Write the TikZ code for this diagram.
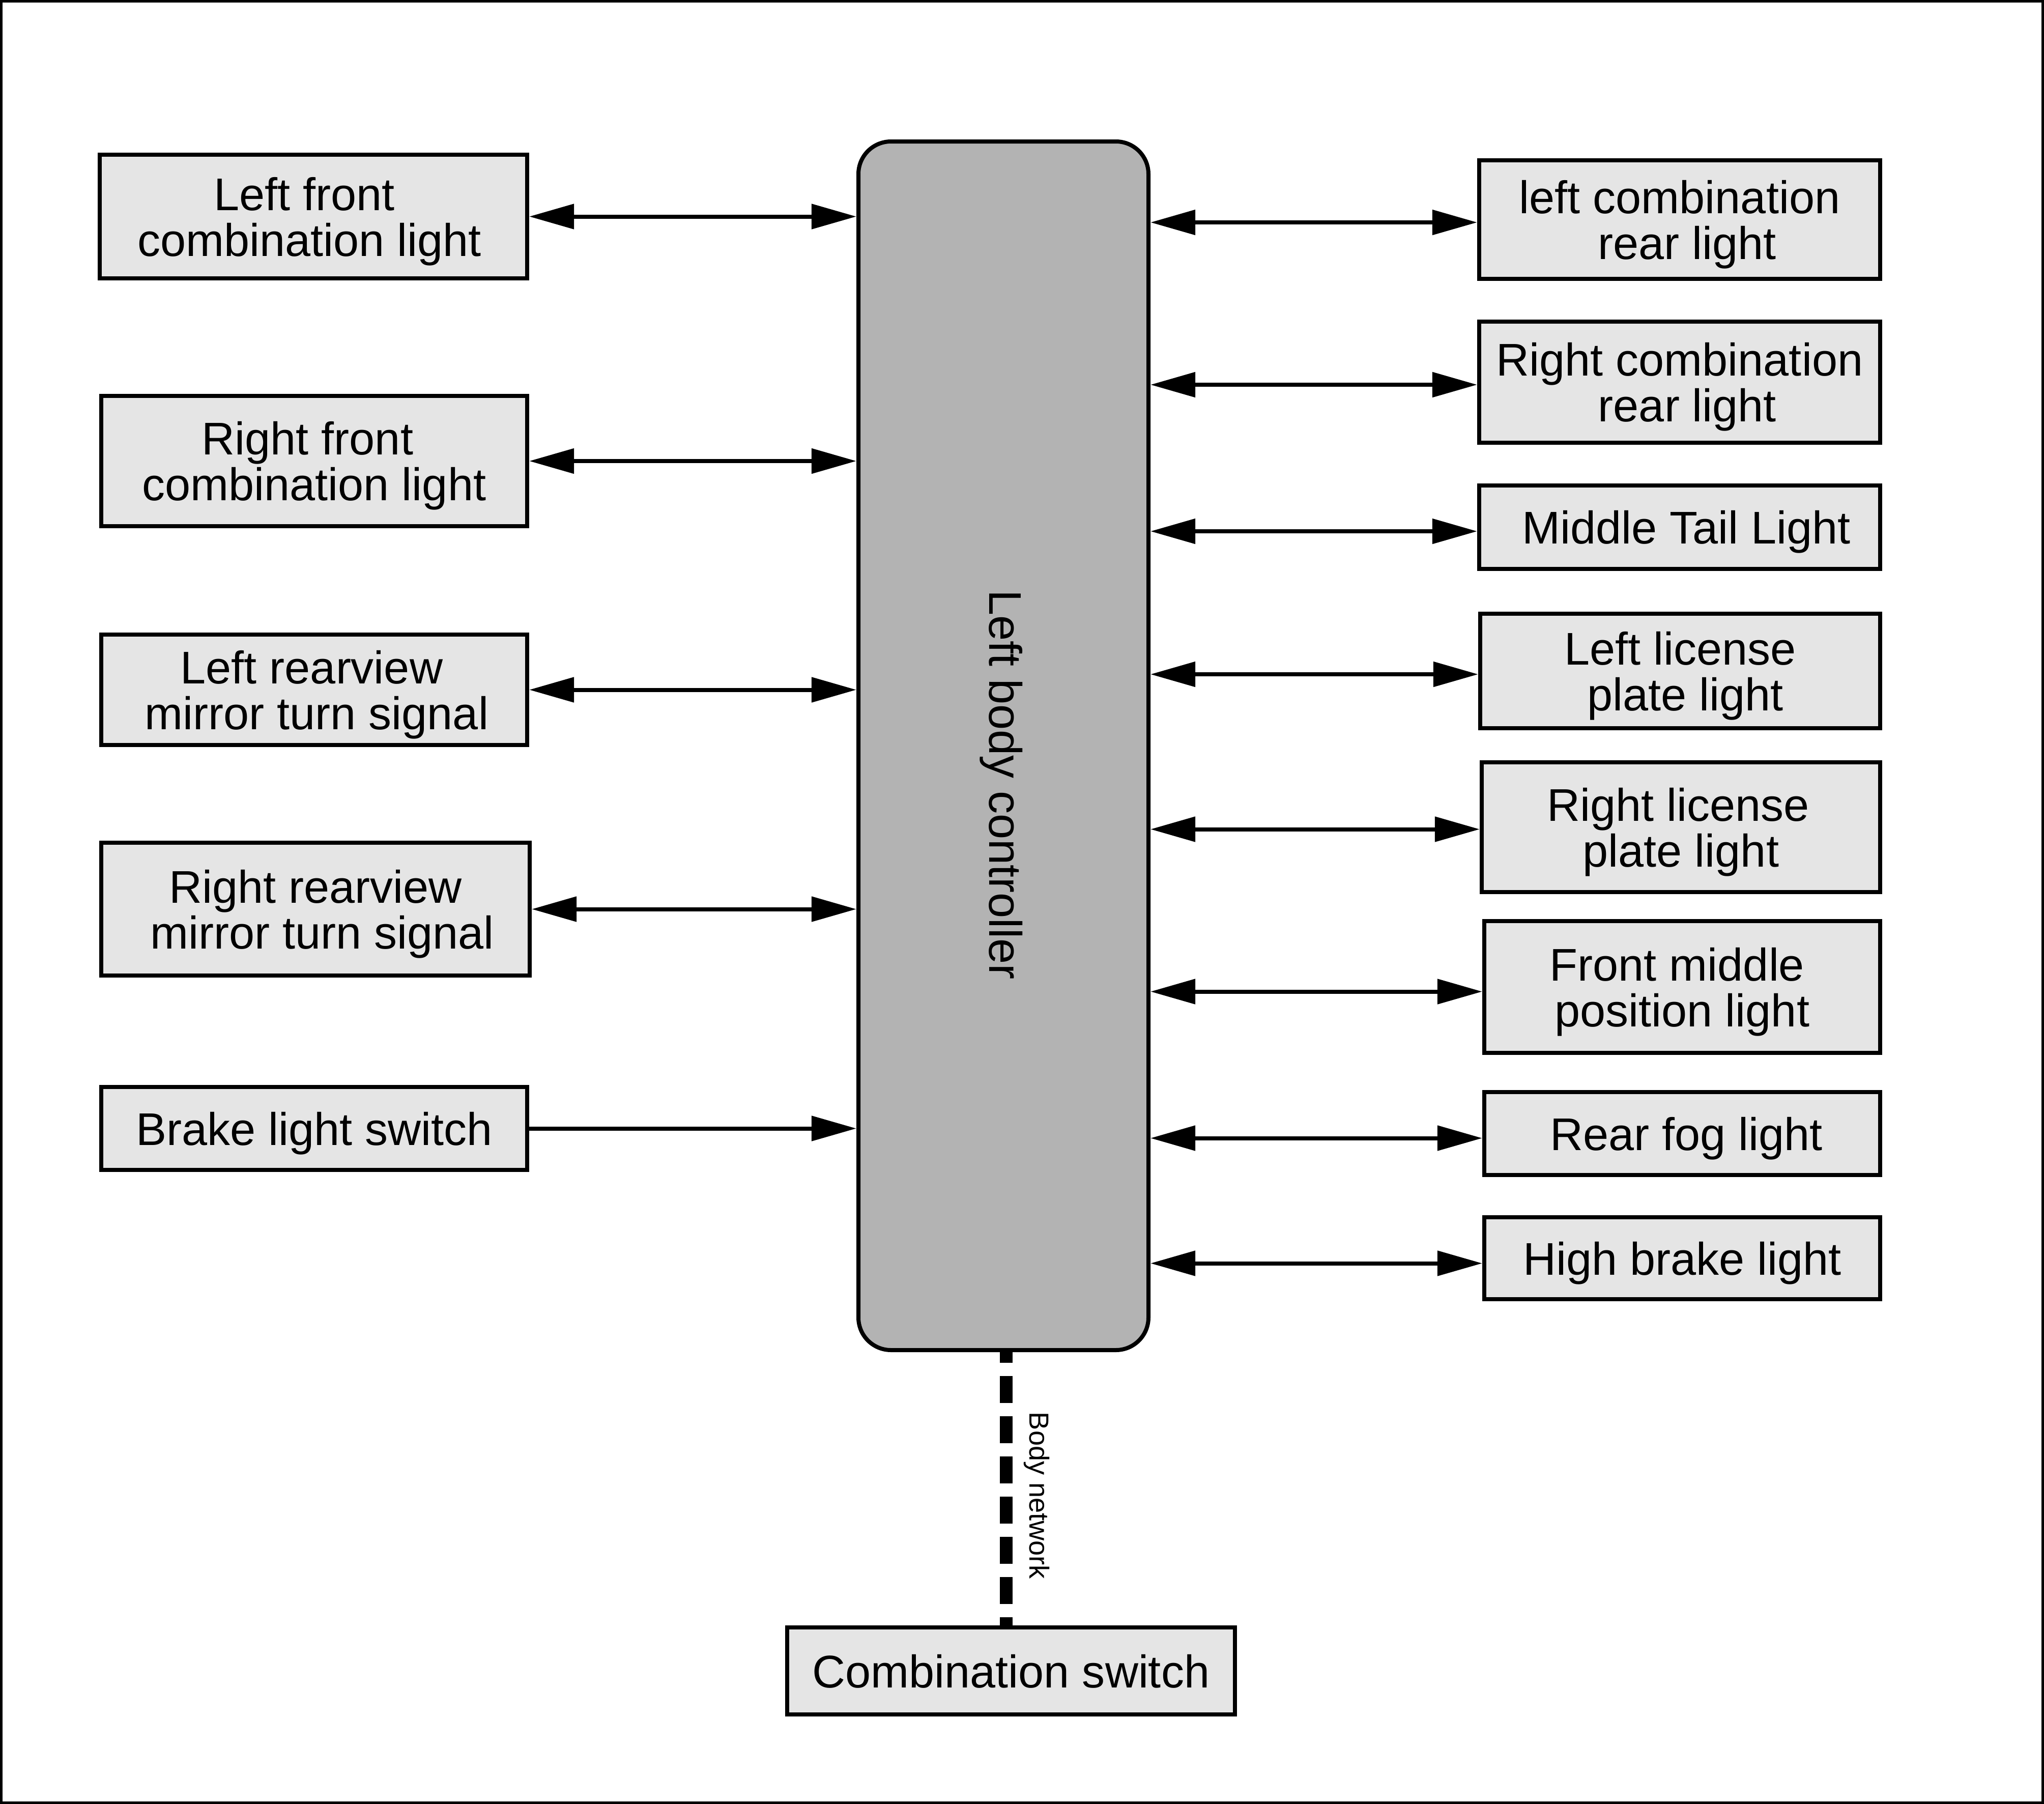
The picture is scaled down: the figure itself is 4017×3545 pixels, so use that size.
\documentclass[tikz,border=0pt]{standalone}
\usepackage{fontspec}
\setmainfont{Liberation Sans}
\usetikzlibrary{arrows.meta}
\definecolor{boxfill}{RGB}{229,229,229}
\definecolor{ctrlfill}{RGB}{179,179,179}
\newcommand\mainfs{\fontsize{25.6pt}{25.6pt}\selectfont}
\newcommand\smallfs{\fontsize{15.4pt}{16pt}\selectfont}
\newcommand\pad[1]{\rule{#1}{0pt}}
\tikzset{
 boxst/.style={draw=black, fill=boxfill, line width=0.08cm, inner sep=0pt, align=center, font=\mainfs, text depth=0pt},
 twoline/.style={},
 ctrlst/.style={draw=black, fill=ctrlfill, line width=0.08cm, rounded corners=0.64cm, inner sep=0pt},
 biarrow/.style={line width=0.08cm, {Triangle[length=0.88cm,width=0.48cm]}-{Triangle[length=0.88cm,width=0.48cm]}},
 onearrow/.style={line width=0.08cm, -{Triangle[length=0.88cm,width=0.48cm]}},
 netline/.style={line width=0.25cm, dash pattern=on 0.53cm off 0.26cm, dash phase=0.32cm},
 frame/.style={draw=black, line width=0.05cm},
}
% #1 extra style, #2 name, #3 x1, #4 y1, #5 x2, #6 y2 (outer edges, px), #7 text
\newcommand\boxnode[7]{\node[boxst, #1, minimum width={(#5-#3-8)*0.01cm}, minimum height={(#6-#4-8)*0.01cm}] (#2) at ({(#3+#5)/2},{(#4+#6)/2}) {#7};}
\begin{document}
\begin{tikzpicture}[x=0.01cm,y=-0.01cm]
\useasboundingbox (0,0) rectangle (4017,3545);
\draw[frame] (2.5,2.5) rectangle (4014.5,3542.5);

% central controller
\node[ctrlst, minimum width={570*0.01cm}, minimum height={2375*0.01cm}] (ctrl) at (1972,1465.5) {};
\node[font=\mainfs, rotate=-90, inner sep=0pt] (ctrllabel) at (1968,1542) {Left body controller};

% left column
\boxnode{twoline}{L1}{192}{300}{1040}{551}{Left front\pad{0.36cm}\\combination light\pad{0.16cm}}
\boxnode{twoline}{L2}{195}{774}{1040}{1038}{Right front\pad{0.26cm}\\combination light}
\boxnode{twoline}{L3}{195}{1243}{1040}{1468}{Left rearview\pad{0.1cm}\\\pad{0.1cm}mirror turn signal}
\boxnode{twoline}{L4}{195}{1652}{1045}{1921}{Right rearview\\\pad{0.26cm}mirror turn signal}
\boxnode{}{L5}{195}{2132}{1040}{2303}{Brake light switch}

% right column
\boxnode{twoline}{R1}{2903}{311}{3699}{552}{left combination\\\pad{0.3cm}rear light}
\boxnode{twoline}{R2}{2903}{628}{3699}{874}{Right combination\\\pad{0.3cm}rear light}
\boxnode{}{R3}{2903}{950}{3699}{1122}{\pad{0.26cm}Middle Tail Light}
\boxnode{twoline}{R4}{2905}{1202}{3699}{1435}{Left license\\\pad{0.2cm}plate light}
\boxnode{twoline}{R5}{2908}{1494}{3699}{1757}{Right license\pad{0.1cm}\\plate light}
\boxnode{twoline}{R6}{2913}{1806}{3699}{2073}{Front middle\pad{0.2cm}\\position light}
\boxnode{}{R7}{2913}{2142}{3699}{2313}{\pad{0.16cm}Rear fog light}
\boxnode{}{R8}{2913}{2388}{3699}{2557}{High brake light}

% combination switch
\boxnode{}{CS}{1543}{3194}{2431}{3373}{Combination switch}

% left connectors
\draw[biarrow] (L1.east) -- (ctrl.west |- L1.east);
\draw[biarrow] (L2.east) -- (ctrl.west |- L2.east);
\draw[biarrow] (L3.east) -- (ctrl.west |- L3.east);
\draw[biarrow] (L4.east) -- (ctrl.west |- L4.east);
\draw[onearrow] (L5.east) -- (ctrl.west |- L5.east);

% right connectors
\coordinate (R1w) at ([yshift=-0.055cm]R1.west);
\coordinate (R2w) at ([yshift=-0.05cm]R2.west);
\coordinate (R3w) at ([yshift=-0.08cm]R3.west);
\coordinate (R4w) at ([yshift=-0.065cm]R4.west);
\coordinate (R5w) at ([yshift=-0.04cm]R5.west);
\coordinate (R6w) at ([yshift=-0.09cm]R6.west);
\coordinate (R7w) at ([yshift=-0.09cm]R7.west);
\coordinate (R8w) at ([yshift=-0.1cm]R8.west);
\foreach \r in {R1w,R2w,R3w,R4w,R5w,R6w,R7w,R8w}{
  \draw[biarrow] (ctrl.east |- \r) -- (\r);
}

% body network
\draw[netline] ([xshift=0.05cm]ctrl.south) -- ([xshift=0.05cm]ctrl.south |- CS.north);
\node[font=\smallfs, rotate=-90, inner sep=0pt] (netlabel) at (2037,2939) {Body network};
\end{tikzpicture}
\end{document}
